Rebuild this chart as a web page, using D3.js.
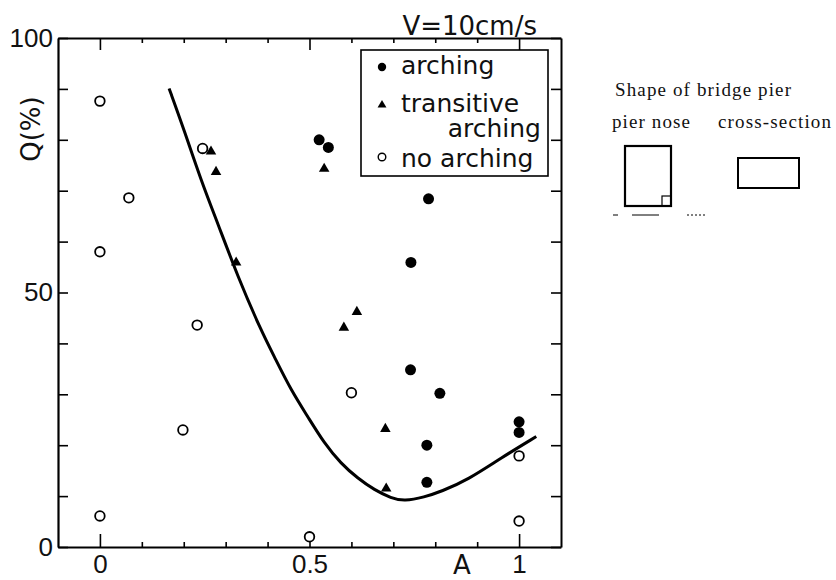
<!DOCTYPE html>
<html><head><meta charset="utf-8">
<script src="https://cdn.jsdelivr.net/npm/d3@7"></script>
<style>body{margin:0;background:#fff}</style>
</head><body><svg id="c" width="836" height="580"></svg>
<script>
// ---- data ----
const xMajorTicks = [0, 0.5, 1];
const xMajorLabels = ["0", "0.5", "1"];
const xMinorTicks = [0.1, 0.2, 0.3, 0.4, 0.6, 0.7, 0.8, 0.9];
const yTicks = [0, 10, 20, 30, 40, 50, 60, 70, 80, 90, 100];
const yLabelled = [0, 50, 100];

const archingA = [0.523, 0.545, 0.784, 0.742, 0.741, 0.811, 0.780, 0.780, 1.0, 1.0];
const archingQ = [80.0, 78.5, 68.4, 55.9, 34.8, 30.2, 20.0, 12.7, 24.6, 22.5];

const transA = [0.265, 0.277, 0.535, 0.325, 0.613, 0.582, 0.681, 0.683];
const transQ = [77.7, 73.7, 74.3, 55.9, 46.2, 43.1, 23.2, 11.5];

const noArchA = [0.0, 0.069, 0.0, 0.245, 0.232, 0.198, 0.0, 0.5, 0.6, 1.0, 1.0];
const noArchQ = [87.6, 68.6, 58.0, 78.3, 43.6, 23.0, 6.1, 2.0, 30.3, 17.9, 5.1];

const curveA = [0.165, 0.201, 0.241, 0.281, 0.329, 0.384, 0.416, 0.456, 0.496, 0.535, 0.575, 0.615, 0.655, 0.695, 0.726, 0.774, 0.814, 0.878, 0.957, 1.041];
const curveQ = [90.1, 81.9, 72.1, 63.6, 53.1, 42.6, 37.4, 30.8, 25.6, 20.4, 16.4, 13.5, 11.2, 9.6, 9.0, 9.8, 10.9, 13.2, 17.5, 21.7];

const legendLabels = ["arching", "transitive", "arching", "no arching"];
const conditionLabel = "V=10cm/s";
const xTitle = "A";
const yTitle = "Q(%)";
const pierTitle = "Shape of bridge pier";
const pierLabels = ["pier nose", "cross-section"];

// ---- drawing ----
const svg = d3.select("#c");
const sans = "'DejaVu Sans', sans-serif";
const helv = "'Liberation Sans', Arial, sans-serif";
const serif = "'Liberation Serif', 'Times New Roman', serif";

const x = d3.scaleLinear().domain([-0.1, 1.1]).range([58, 561]);
const y = d3.scaleLinear().domain([0, 100]).range([547, 38]);

function styleAxis(g, sw) {
  g.attr("font-family", helv).attr("font-size", 26);
  g.select(".domain").attr("stroke", "#000").attr("stroke-width", sw);
  g.selectAll(".tick line").attr("stroke", "#000").attr("stroke-width", 1.6);
  g.selectAll(".tick text").attr("fill", "#111");
}

// bottom
const gb = svg.append("g").attr("transform", `translate(0,${y(0)})`)
  .call(d3.axisBottom(x).tickValues(xMajorTicks).tickFormat((d, i) => xMajorLabels[i])
    .tickSize(-13).tickSizeOuter(0).tickPadding(8));
styleAxis(gb, 2.2);
const gbm = svg.append("g").attr("transform", `translate(0,${y(0)})`)
  .call(d3.axisBottom(x).tickValues(xMinorTicks).tickFormat("").tickSize(-5).tickSizeOuter(0));
gbm.select(".domain").remove(); styleAxis(gbm, 0);

// top
const gt = svg.append("g").attr("transform", `translate(0,${y(100)})`)
  .call(d3.axisTop(x).tickValues(xMajorTicks).tickFormat("").tickSize(-12).tickSizeOuter(0));
styleAxis(gt, 1.8);
const gtm = svg.append("g").attr("transform", `translate(0,${y(100)})`)
  .call(d3.axisTop(x).tickValues(xMinorTicks).tickFormat("").tickSize(-5).tickSizeOuter(0));
gtm.select(".domain").remove(); styleAxis(gtm, 0);

// left
const gl = svg.append("g").attr("transform", `translate(${x(-0.1)},0)`)
  .call(d3.axisLeft(y).tickValues(yTicks).tickFormat(d => yLabelled.includes(d) ? String(d) : "")
    .tickSize(-10).tickSizeOuter(0).tickPadding(5));
styleAxis(gl, 2.2);

// right
const gr = svg.append("g").attr("transform", `translate(${x(1.1)},0)`)
  .call(d3.axisRight(y).tickValues(yTicks).tickFormat("").tickSize(-10).tickSizeOuter(0));
styleAxis(gr, 2);

// titles
svg.append("text").attr("x", 462).attr("y", 574).attr("text-anchor", "middle")
  .attr("font-family", sans).attr("font-size", 26).attr("fill", "#111").text(xTitle);
svg.append("text").attr("transform", "translate(40,129) rotate(-90)").attr("text-anchor", "middle")
  .attr("font-family", sans).attr("font-size", 26).attr("fill", "#111").text(yTitle);
svg.append("text").attr("x", 537).attr("y", 35).attr("text-anchor", "end")
  .attr("font-family", sans).attr("font-size", 26).attr("fill", "#111").text(conditionLabel);

// curve
const line = d3.line().x(d => x(d[0])).y(d => y(d[1])).curve(d3.curveBasis);
svg.append("path").datum(curveA.map((a, i) => [a, curveQ[i]]))
  .attr("d", line).attr("fill", "none").attr("stroke", "#000").attr("stroke-width", 3);

// markers
const tri = d3.symbol().type(d3.symbolTriangle).size(48);
svg.append("g").selectAll("circle").data(noArchA.map((a, i) => [a, noArchQ[i]])).join("circle")
  .attr("cx", d => x(d[0])).attr("cy", d => y(d[1])).attr("r", 4.8)
  .attr("fill", "#fff").attr("stroke", "#000").attr("stroke-width", 1.8);
svg.append("g").selectAll("path").data(transA.map((a, i) => [a, transQ[i]])).join("path")
  .attr("transform", d => `translate(${x(d[0])},${y(d[1])})`).attr("d", tri).attr("fill", "#000");
svg.append("g").selectAll("circle").data(archingA.map((a, i) => [a, archingQ[i]])).join("circle")
  .attr("cx", d => x(d[0])).attr("cy", d => y(d[1])).attr("r", 5.5).attr("fill", "#000");

// legend
const lg = svg.append("g");
lg.append("rect").attr("x", 361).attr("y", 50).attr("width", 187).attr("height", 126)
  .attr("fill", "#fff").attr("stroke", "#000").attr("stroke-width", 1.6);
lg.append("circle").attr("cx", 382).attr("cy", 67).attr("r", 4.2).attr("fill", "#000");
lg.append("path").attr("transform", "translate(382,105)").attr("d", d3.symbol().type(d3.symbolTriangle).size(34)).attr("fill", "#000");
lg.append("circle").attr("cx", 382).attr("cy", 157).attr("r", 3.8).attr("fill", "#fff").attr("stroke", "#000").attr("stroke-width", 1.4);
const lt = lg.append("g").attr("font-family", sans).attr("font-size", 25).attr("fill", "#111");
lt.append("text").attr("x", 401).attr("y", 74).text(legendLabels[0]);
lt.append("text").attr("x", 401).attr("y", 112).text(legendLabels[1]);
lt.append("text").attr("x", 541).attr("y", 137).attr("text-anchor", "end").text(legendLabels[2]);
lt.append("text").attr("x", 401).attr("y", 167).text(legendLabels[3]);

// pier shape inset
const pg = svg.append("g").attr("font-family", serif).attr("fill", "#111");
pg.append("text").attr("x", 615).attr("y", 96).attr("font-size", 19).attr("textLength", 176).text(pierTitle);
pg.append("text").attr("x", 612).attr("y", 128).attr("font-size", 19).attr("textLength", 78).text(pierLabels[0]);
pg.append("text").attr("x", 718).attr("y", 128).attr("font-size", 19).attr("textLength", 113).text(pierLabels[1]);
pg.append("rect").attr("x", 625).attr("y", 146).attr("width", 46).attr("height", 60)
  .attr("fill", "none").attr("stroke", "#000").attr("stroke-width", 2.2);
pg.append("rect").attr("x", 662).attr("y", 196).attr("width", 9).attr("height", 10)
  .attr("fill", "none").attr("stroke", "#000").attr("stroke-width", 1.2);
pg.append("rect").attr("x", 738).attr("y", 158).attr("width", 61).attr("height", 30)
  .attr("fill", "none").attr("stroke", "#000").attr("stroke-width", 2);
pg.append("line").attr("x1", 613).attr("x2", 659).attr("y1", 215).attr("y2", 215)
  .attr("stroke", "#000").attr("stroke-width", 1).attr("stroke-dasharray", "5,14,25,0");
pg.append("line").attr("x1", 687).attr("x2", 707).attr("y1", 215).attr("y2", 215)
  .attr("stroke", "#000").attr("stroke-width", 1).attr("stroke-dasharray", "2,2");
</script></body></html>
